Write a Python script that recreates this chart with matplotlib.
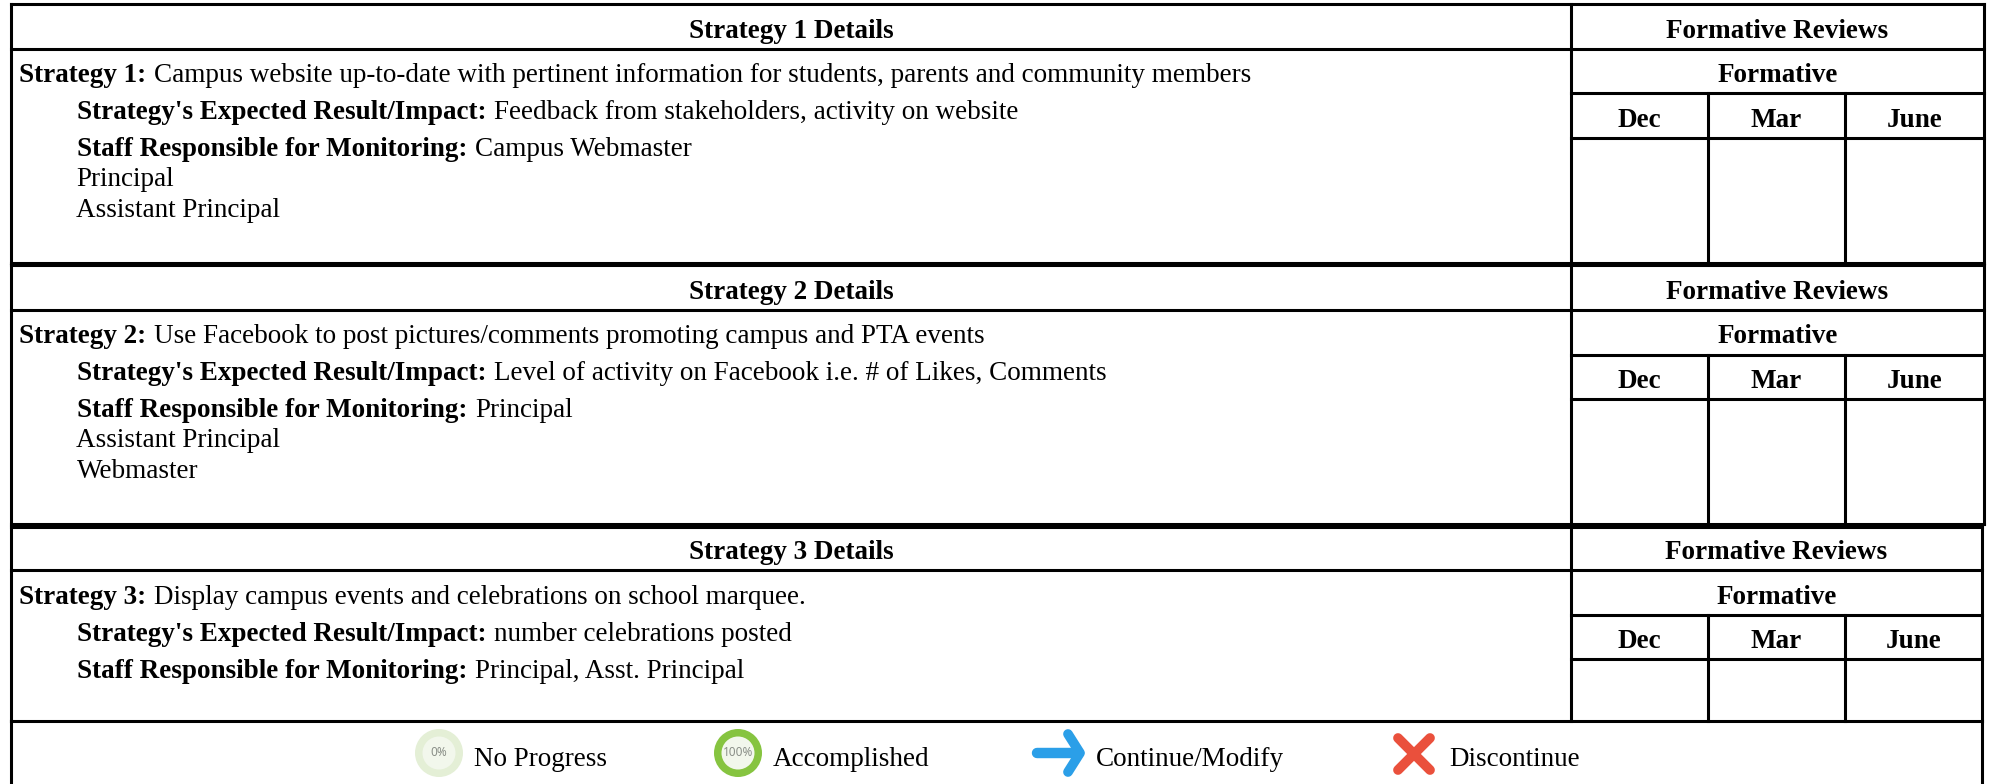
import matplotlib
matplotlib.use("Agg")
import matplotlib.pyplot as plt
from matplotlib.patches import Circle

plt.rcParams["font.family"] = ["Liberation Serif", "DejaVu Serif"]

# table text
strategy_titles = ["Strategy 1 Details", "Strategy 2 Details", "Strategy 3 Details"]
strategy_labels = ["Strategy 1:", "Strategy 2:", "Strategy 3:"]
strategy_texts = [
    "Campus website up-to-date with pertinent information for students, parents and community members",
    "Use Facebook to post pictures/comments promoting campus and PTA events",
    "Display campus events and celebrations on school marquee.",
]
impact_label = "Strategy's Expected Result/Impact:"
impact_texts = [
    "Feedback from stakeholders, activity on website",
    "Level of activity on Facebook i.e. # of Likes, Comments",
    "number celebrations posted",
]
staff_label = "Staff Responsible for Monitoring:"
staff_texts = ["Campus Webmaster", "Principal", "Principal, Asst. Principal"]
staff_extra = [["Principal", "Assistant Principal"], ["Assistant Principal", "Webmaster"], []]
review_title = "Formative Reviews"
review_sub = "Formative"
months = ["Dec", "Mar", "June"]
legend_labels = ["No Progress", "Accomplished", "Continue/Modify", "Discontinue"]
ring_labels = ["0%", "100%"]

# layout in pixels
W, H = 1993, 784
FS = 19.5
LEFT = 11.5
SPLIT = 1571
MONTH_X = [1708, 1845]
block_right = [1984, 1984, 1982]
# top, header bottom, formative bottom, month bottom, block bottom
block_y = [[4, 49, 93, 138, 263], [265, 310, 355, 399, 524], [527, 570, 615, 659, 721]]
# baselines: header, first row, month row
base_y = [[38, 82, 127], [299, 343, 388], [559, 604, 648]]
LINE_W = 2.2

fig = plt.figure(figsize=(W / 100, H / 100), dpi=100)
ax = fig.add_axes([0, 0, 1, 1])
ax.set_xlim(0, W)
ax.set_ylim(H, 0)
ax.axis("off")


def hline(x0, x1, y, lw=LINE_W):
    ax.plot([x0, x1], [y, y], color="black", lw=lw, solid_capstyle="projecting")


def vline(x, y0, y1, lw=LINE_W):
    ax.plot([x, x], [y0, y1], color="black", lw=lw, solid_capstyle="projecting")


def put(x, y, s, weight="normal", ha="left"):
    return ax.text(x, y, s, fontsize=FS, fontweight=weight, ha=ha, va="baseline", color="black")


def pair(x, y, bold, normal):
    # bold label then normal text right after it
    t = put(x, y, bold, "bold")
    box = t.get_window_extent(renderer=fig.canvas.get_renderer())
    put(box.x1 + 8, y, normal)


for i in range(3):
    top, head, form, month, bottom = block_y[i]
    right = block_right[i]
    b0, b1, b2 = base_y[i]

    # grid
    hline(LEFT, right, top)
    hline(LEFT, right, head)
    hline(SPLIT, right, form)
    hline(SPLIT, right, month)
    hline(LEFT, right, bottom)
    vline(LEFT, top, bottom)
    vline(right, top, bottom)
    vline(SPLIT, top, bottom)
    for mx in MONTH_X:
        vline(mx, form, bottom)

    # headers
    put((LEFT + SPLIT) / 2, b0, strategy_titles[i], "bold", "center")
    put((SPLIT + right) / 2, b0, review_title, "bold", "center")
    put((SPLIT + right) / 2, b1, review_sub, "bold", "center")
    edges = [SPLIT] + MONTH_X + [right]
    for k, m in enumerate(months):
        put((edges[k] + edges[k + 1]) / 2, b2, m, "bold", "center")

    # strategy text
    pair(19, b1, strategy_labels[i], strategy_texts[i])
    pair(77, b1 + 37, impact_label, impact_texts[i])
    pair(77, b1 + 74, staff_label, staff_texts[i])
    for k, extra in enumerate(staff_extra[i]):
        put(76.5, b1 + 104 + 31 * k, extra)

# legend row
vline(LEFT, 721, H + 5)
vline(block_right[2], 721, H + 5)

ring_x = [439, 738]
ring_outer = ["#e4efd6", "#86c440"]
for cx, col, lab in zip(ring_x, ring_outer, ring_labels):
    ax.add_patch(Circle((cx, 753), 24, color=col, lw=0))
    ax.add_patch(Circle((cx, 753), 16.5, color="#f2f7ec", lw=0))
    ax.text(cx, 752, lab, fontsize=8.5, family="Noto Sans", fontweight="bold", color="#8a8f88",
            ha="center", va="center")

# arrow
ax.plot([1037, 1079], [753, 753], color="#2b9fe8", lw=7.5, solid_capstyle="round")
ax.plot([1068, 1080, 1068], [734, 753, 772], color="#2b9fe8", lw=7,
        solid_capstyle="round", solid_joinstyle="round")
# cross
ax.plot([1398, 1430], [738, 770], color="#ea503c", lw=7, solid_capstyle="round")
ax.plot([1430, 1398], [738, 770], color="#ea503c", lw=7, solid_capstyle="round")

legend_x = [474, 773, 1096, 1449]
for lx, lab in zip(legend_x, legend_labels):
    put(lx, 766, lab)

fig.savefig("out.png", dpi=100, facecolor="white")
